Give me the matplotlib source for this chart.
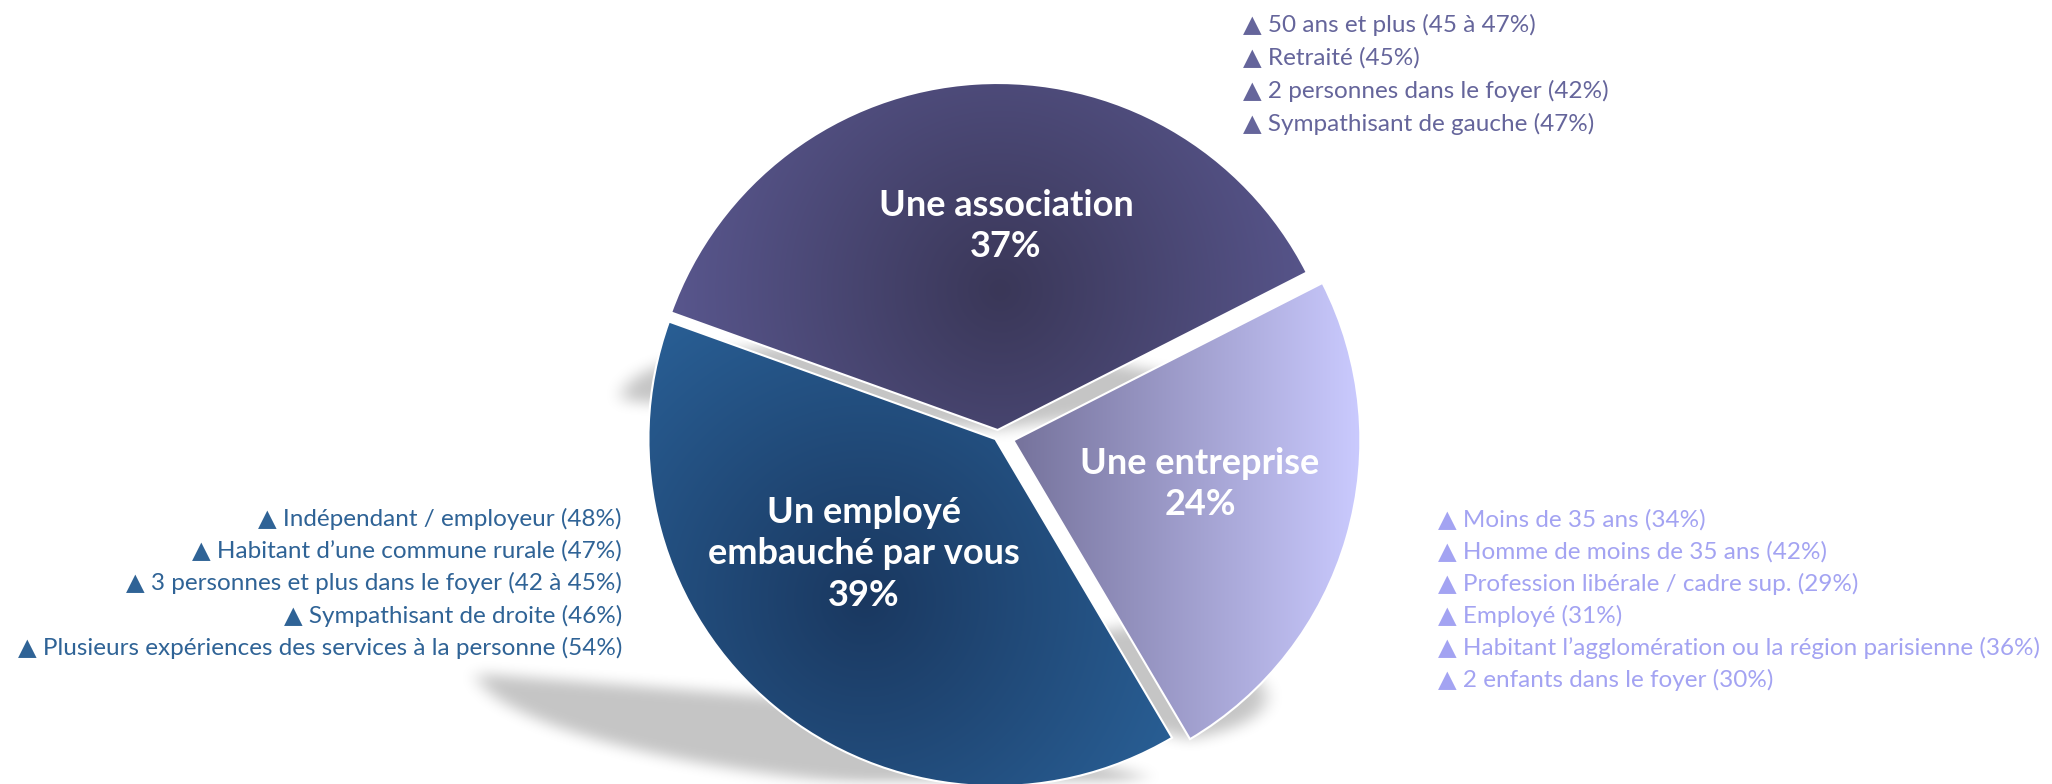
import numpy as np
import matplotlib
matplotlib.use('Agg')
import matplotlib.pyplot as plt
from matplotlib.path import Path
from matplotlib.colors import to_rgb

W, H = 2052, 784

# slices
categories = ['Une association', 'Un employé\nembauché par vous', 'Une entreprise']
shares = [37, 39, 24]

# sur-représentations par réponse
profil_association = ['50 ans et plus (45 à 47%)', 'Retraité (45%)',
                      '2 personnes dans le foyer (42%)', 'Sympathisant de gauche (47%)']
profil_employe = ['Indépendant / employeur (48%)', 'Habitant d\u2019une commune rurale (47%)',
                  '3 personnes et plus dans le foyer (42 à 45%)', 'Sympathisant de droite (46%)',
                  'Plusieurs expériences des services à la personne (54%)']
profil_entreprise = ['Moins de 35 ans (34%)', 'Homme de moins de 35 ans (42%)',
                     'Profession libérale / cadre sup. (29%)', 'Employé (31%)',
                     'Habitant l\u2019agglomération ou la région parisienne (36%)',
                     '2 enfants dans le foyer (30%)']

fam = ['Lato', 'DejaVu Sans']

fig = plt.figure(figsize=(W / 100, H / 100), dpi=100)
ax = fig.add_axes([0, 0, 1, 1])
cx, cy, R = 998, H - 436, 347
# explode is in data units (pixels here)
wedges, _ = ax.pie(shares, startangle=27, center=(cx, cy), radius=R,
                   explode=[6, 4, 16],
                   wedgeprops=dict(facecolor='none', edgecolor='white', linewidth=1.5, zorder=3))
ax.set_xlim(0, W)
ax.set_ylim(0, H)
ax.set_aspect('equal')
ax.axis('off')

xx, yy = np.meshgrid(np.arange(W) + 0.5, np.arange(H) + 0.5)


def blur1d(a, r, axis):
    a = np.moveaxis(a, axis, -1)
    p = np.pad(a, [(0, 0), (r + 1, r)])
    c = np.cumsum(p, axis=-1)
    out = (c[:, 2 * r + 1:] - c[:, :-2 * r - 1]) / (2 * r + 1)
    return np.moveaxis(out, -1, axis)


# perspective shadow, one per slice
k, q = 0.41, 0.25
pts = np.column_stack([xx.ravel(), yy.ravel()])
mask = np.zeros((H, W))
for w in wedges:
    p = w.get_path()
    v = p.vertices.copy()
    y0 = v[:, 1].min()
    h = v[:, 1] - y0
    v[:, 0] -= k * h
    v[:, 1] = y0 + q * h
    m = Path(v, p.codes).contains_points(pts).reshape(H, W)
    mask = np.maximum(mask, m)
for _ in range(3):
    mask = blur1d(mask, 8, 1)
    mask = blur1d(mask, 6, 0)
shadow = np.zeros((H, W, 4))
shadow[..., 3] = 0.23 * mask
ax.imshow(shadow, extent=(0, W, 0, H), origin='lower', zorder=1, interpolation='bilinear')


def radial(center, r, inner, outer):
    d = np.clip(np.hypot(xx - center[0], yy - center[1]) / r, 0, 1)[..., None]
    a, b = np.array(to_rgb(inner)), np.array(to_rgb(outer))
    return a + (b - a) * d


def linear(x0, x1, left, right):
    t = np.clip((xx - x0) / (x1 - x0), 0, 1)[..., None]
    a, b = np.array(to_rgb(left)), np.array(to_rgb(right))
    return a + (b - a) * t


fills = [radial((1000, H - 290), 390, '#3a3758', '#5e5c97'),
         radial((865, H - 600), 390, '#1a3860', '#2b649c'),
         linear(1012, 1355, '#75729b', '#c9c9fd')]
for w, img in zip(wedges, fills):
    im = ax.imshow(img, extent=(0, W, 0, H), origin='lower', zorder=2, interpolation='bilinear')
    im.set_clip_path(w)

# slice labels
label_pos = [(1006, H - 226), (864, H - 554), (1200, H - 484)]
for (x, y), c, v in zip(label_pos, categories, shares):
    ax.text(x, y, f'{c}\n{v}%', ha='center', va='center', color='white',
            fontsize=26, fontweight='bold', family=fam, linespacing=1.3, zorder=5)

fs = 17.5
for i, s in enumerate(profil_association):
    ax.text(1243, H - (25 + 33 * i), '\u25b2 ' + s, ha='left', va='center',
            color='#65659b', fontsize=fs, family=fam, zorder=5)
for i, s in enumerate(profil_employe):
    ax.text(622, H - (519 + 32.2 * i), '\u25b2 ' + s, ha='right', va='center',
            color='#2f6396', fontsize=fs, family=fam, zorder=5)
for i, s in enumerate(profil_entreprise):
    ax.text(1438, H - (520 + 32 * i), '\u25b2 ' + s, ha='left', va='center',
            color='#a3a3f2', fontsize=fs, family=fam, zorder=5)

fig.savefig('out.png', dpi=100)
